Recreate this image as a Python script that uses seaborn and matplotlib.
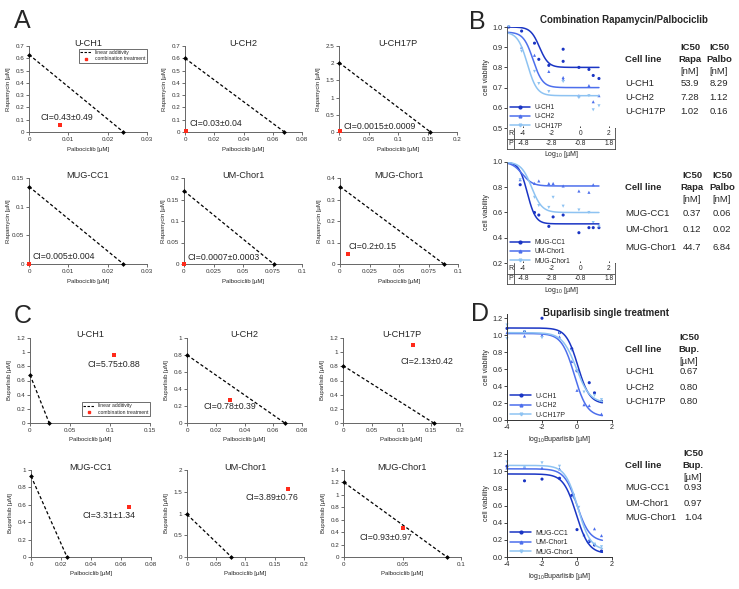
import numpy as np
import pandas as pd
import matplotlib
matplotlib.use("Agg")
import matplotlib.pyplot as plt
import seaborn as sns
from matplotlib.lines import Line2D
from matplotlib.ticker import FuncFormatter, FormatStrFormatter

W, H = 739, 589

# ---- ISOBOLOGRAMS (panels A and C) ----
iso_lines = ["U-CH1", "U-CH2", "U-CH17P", "MUG-CC1", "UM-Chor1", "MUG-Chor1"]

rapa_xint = [0.024, 0.068, 0.155, 0.024, 0.076, 0.088]
rapa_yint = [0.63, 0.60, 2.02, 0.135, 0.17, 0.36]
rapa_combo_x = [0.008, 0.001, 0.001, 0.0, 0.0, 0.007]
rapa_combo_y = [0.06, 0.01, 0.02, 0.0, 0.0, 0.045]
rapa_ci = ["CI=0.43±0.49", "CI=0.03±0.04", "CI=0.0015±0.0009",
           "CI=0.005±0.004", "CI=0.0007±0.0003", "CI=0.2±0.15"]
rapa_xmax = [0.03, 0.08, 0.2, 0.03, 0.1, 0.1]
rapa_xstep = [0.01, 0.02, 0.05, 0.01, 0.025, 0.025]
rapa_ymax = [0.7, 0.7, 2.5, 0.15, 0.2, 0.4]
rapa_ystep = [0.1, 0.1, 0.5, 0.05, 0.05, 0.1]

bup_xint = [0.024, 0.068, 0.155, 0.024, 0.076, 0.088]
bup_yint = [0.68, 0.80, 0.81, 0.93, 0.98, 1.20]
bup_combo_x = [0.105, 0.030, 0.120, 0.065, 0.173, 0.050]
bup_combo_y = [0.96, 0.27, 1.10, 0.58, 1.57, 0.47]
bup_ci = ["CI=5.75±0.88", "CI=0.78±0.39", "CI=2.13±0.42",
          "CI=3.31±1.34", "CI=3.89±0.76", "CI=0.93±0.97"]
bup_xmax = [0.15, 0.08, 0.2, 0.08, 0.2, 0.1]
bup_xstep = [0.05, 0.02, 0.05, 0.02, 0.05, 0.05]
bup_ymax = [1.2, 1.0, 1.2, 1.0, 2.0, 1.4]
bup_ystep = [0.2, 0.2, 0.2, 0.2, 0.5, 0.2]

# ---- DOSE RESPONSE (panel B, combination; x in log10 rapamycin) ----
b_top_lines = ["U-CH1", "U-CH2", "U-CH17P"]
b_top_fit_top = [1.0, 0.975, 0.975]
b_top_fit_bottom = [0.80, 0.70, 0.66]
b_top_fit_logec = [-2.85, -3.3, -3.7]
b_top_fit_hill = [1.4, 1.3, 1.3]
b_top_x = [[-5.0, -4.1, -3.2, -2.9, -2.2, -1.2, -1.2, -0.1, 0.6, 0.9, 1.3],
           [-4.1, -3.2, -2.2, -1.2, -1.2, -0.1, 0.6, 0.9, 1.3],
           [-5.0, -4.1, -3.2, -2.9, -2.2, -1.2, -0.1, 0.6, 0.9, 1.3]]
b_top_y = [[1.0, 0.98, 0.92, 0.84, 0.81, 0.89, 0.83, 0.80, 0.79, 0.76, 0.745],
           [0.90, 0.86, 0.78, 0.75, 0.74, 0.66, 0.71, 0.63, 0.66],
           [1.0, 0.88, 0.78, 0.72, 0.68, 0.73, 0.65, 0.66, 0.59, 0.61]]

b_bot_lines = ["MUG-CC1", "UM-Chor1", "MUG-Chor1"]
b_bot_fit_top = [1.0, 1.0, 1.0]
b_bot_fit_bottom = [0.51, 0.81, 0.60]
b_bot_fit_logec = [-3.7, -4.05, -3.4]
b_bot_fit_hill = [1.5, 1.2, 1.2]
b_bot_x = [[-4.2, -3.2, -2.9, -2.2, -1.9, -1.2, -0.1, 0.6, 0.9, 1.3],
           [-4.2, -3.2, -2.9, -2.2, -1.9, -1.2, -0.1, 0.6, 0.9],
           [-4.2, -3.2, -2.9, -2.2, -1.9, -1.2, -0.1, 0.6, 0.9, 1.3]]
b_bot_y = [[0.82, 0.60, 0.58, 0.49, 0.565, 0.58, 0.44, 0.48, 0.48, 0.48],
           [0.86, 0.83, 0.85, 0.83, 0.83, 0.81, 0.77, 0.76, 0.82],
           [0.86, 0.72, 0.655, 0.64, 0.72, 0.65, 0.62, 0.60, 0.52, 0.49]]

b_r_ticks = [-4, -2, 0, 2]
b_p_labels = ["-4.8", "-2.8", "-0.8", "1.8"]

# ---- DOSE RESPONSE (panel D, buparlisib alone) ----
d_top_lines = ["U-CH1", "U-CH2", "U-CH17P"]
d_top_fit_top = [1.085, 1.02, 1.03]
d_top_fit_bottom = [0.19, 0.04, 0.20]
d_top_fit_logec = [0.05, -0.15, -0.05]
d_top_fit_hill = [1.3, 1.2, 1.1]
d_top_x = [[-4, -3, -2, -1, -0.3, 0.0, 0.7, 1.0, 1.4],
           [-4, -3, -2, -1, -0.3, 0.0, 0.4, 0.7, 1.4],
           [-4, -4, -3, -2, -1, -0.3, 0.0, 0.4, 1.0, 1.4]]
d_top_y = [[1.08, 1.04, 1.20, 1.03, 0.84, 0.58, 0.44, 0.32, 0.22],
           [1.03, 0.99, 1.00, 0.98, 0.69, 0.35, 0.18, 0.17, 0.07],
           [1.12, 0.96, 1.04, 0.97, 1.03, 0.82, 0.58, 0.33, 0.29, 0.24]]

d_bot_lines = ["MUG-CC1", "UM-Chor1", "MUG-Chor1"]
d_bot_fit_top = [0.97, 1.03, 1.07]
d_bot_fit_bottom = [0.04, 0.18, 0.08]
d_bot_fit_logec = [-0.05, 0.0, 0.05]
d_bot_fit_hill = [1.2, 1.2, 1.2]
d_bot_x = [[-4, -3, -2, -1, -0.3, 0.0, 0.7, 1.0, 1.4],
           [-4, -3, -2, -1, -0.2, 0.4, 0.7, 1.0, 1.4],
           [-4, -3, -2, -1, -0.2, 0.1, 0.6, 1.0, 1.4]]
d_bot_y = [[1.06, 0.89, 0.91, 0.92, 0.72, 0.32, 0.18, 0.14, 0.07],
           [1.04, 1.05, 1.04, 1.03, 0.74, 0.26, 0.20, 0.33, 0.25],
           [1.11, 1.05, 1.10, 1.06, 0.69, 0.58, 0.17, 0.15, 0.12]]

# ---- IC50 TABLES ----
b_top_ic50_rapa = ["53.9", "7.28", "1.02"]
b_top_ic50_palbo = ["8.29", "1.12", "0.16"]
b_bot_ic50_rapa = ["0.37", "0.12", "44.7"]
b_bot_ic50_palbo = ["0.06", "0.02", "6.84"]
d_top_ic50_bup = ["0.67", "0.80", "0.80"]
d_bot_ic50_bup = ["0.93", "0.97", "1.04"]

SHADES = ["#1a35c4", "#4d6fec", "#8ec3f2"]
MARKERS = ["o", "^", "v"]
RED = "#ff2a1a"

sns.set_theme(style="ticks")
plt.rcParams["font.family"] = ["Liberation Sans", "DejaVu Sans"]
plt.rcParams["mathtext.default"] = "regular"
plt.rcParams["axes.unicode_minus"] = False

fig = plt.figure(figsize=(W / 100, H / 100), dpi=100)


def px_axes(left, top, right, bottom):
    return fig.add_axes([left / W, 1 - bottom / H, (right - left) / W, (bottom - top) / H])


def ftext(x, y, s, **kw):
    fig.text(x / W, 1 - y / H, s, **kw)


def num_fmt(v, pos):
    return f"{round(v, 4):g}"


def isobole(ax, name, xint, yint, cx, cy, ci, xmax, xstep, ymax, ystep, ylabel,
            label_xy, ha):
    seg = pd.DataFrame({"palbo": [0.0, xint], "other": [yint, 0.0]})
    ax.plot(seg["palbo"], seg["other"], color="black", lw=0.9, ls=(0, (2.6, 1.8)))
    sns.scatterplot(data=seg, x="palbo", y="other", ax=ax, marker="D", s=6,
                    color="black", linewidth=0, zorder=3, clip_on=False)
    sns.scatterplot(x=[cx], y=[cy], ax=ax, marker="s", s=11, color=RED,
                    linewidth=0, zorder=4, clip_on=False)
    ax.text(label_xy[0], label_xy[1], ci, ha=ha, va="center", fontsize=6.3)

    ax.set_xlim(0, xmax)
    ax.set_ylim(0, ymax)
    ax.set_xticks(np.arange(0, xmax + xstep / 2, xstep))
    ax.set_yticks(np.arange(0, ymax + ystep / 2, ystep))
    ax.xaxis.set_major_formatter(FuncFormatter(num_fmt))
    ax.yaxis.set_major_formatter(FuncFormatter(num_fmt))
    ax.tick_params(labelsize=4.5, length=2, width=0.5, pad=1.5, colors="#333333")
    sns.despine(ax=ax)
    for s in ("left", "bottom"):
        ax.spines[s].set_linewidth(0.7)
        ax.spines[s].set_color("#666666")
    bb = ax.get_position()
    w_px, h_px = bb.width * W, bb.height * H
    ax.set_xlabel("Palbociclib [µM]", fontsize=4.3)
    ax.set_ylabel(ylabel, fontsize=4.3)
    ax.xaxis.set_label_coords(0.5, -14.5 / h_px)
    ax.yaxis.set_label_coords(-18 / w_px, 0.5)
    ax.text(0.5, 1 + 3 / h_px, name, transform=ax.transAxes, ha="center",
            va="center", fontsize=6.6)


def iso_legend(ax, loc, anchor):
    handles = [Line2D([], [], color="black", lw=0.8, ls=(0, (2.2, 1.4))),
               Line2D([], [], color=RED, marker="s", ls="none", markersize=2)]
    leg = ax.legend(handles, ["linear additivity", "combination treatment"], loc=loc,
                    bbox_to_anchor=anchor, fontsize=3.6, frameon=True, fancybox=False,
                    handlelength=2.2, borderpad=0.3, labelspacing=0.25, borderaxespad=0)
    leg.get_frame().set_edgecolor("black")
    leg.get_frame().set_linewidth(0.5)


rows_a = [(46, 132), (178, 264)]
cols_a = [[(29, 147), (185, 302), (339, 457)], [(29, 147), (184, 302), (340, 458)]]
rows_c = [(338, 423), (470, 557)]
cols_c = [[(30, 150), (187, 302), (343, 460)], [(31, 151), (187, 304), (344, 461)]]

# CI label anchors (data coords) and alignment
rapa_label_xy = [(0.0028, 0.114), (0.0034, 0.073), (0.007, 0.15),
                 (0.0008, 0.013), (0.003, 0.015), (0.0068, 0.08)]
bup_label_xy = [(0.105, 0.83), (0.030, 0.19), (0.144, 0.875),
                (0.052, 0.48), (0.145, 1.36), (0.036, 0.31)]

iso_axes_a, iso_axes_c = [], []
for i, name in enumerate(iso_lines):
    r, c = divmod(i, 3)
    (top, bottom), (left, right) = rows_a[r], cols_a[r][c]
    ax = px_axes(left, top, right, bottom)
    isobole(ax, name, rapa_xint[i], rapa_yint[i], rapa_combo_x[i], rapa_combo_y[i],
            rapa_ci[i], rapa_xmax[i], rapa_xstep[i], rapa_ymax[i], rapa_ystep[i],
            "Rapamycin [µM]", rapa_label_xy[i], "left")
    iso_axes_a.append(ax)

    (top, bottom), (left, right) = rows_c[r], cols_c[r][c]
    ax = px_axes(left, top, right, bottom)
    isobole(ax, name, bup_xint[i], bup_yint[i], bup_combo_x[i], bup_combo_y[i],
            bup_ci[i], bup_xmax[i], bup_xstep[i], bup_ymax[i], bup_ystep[i],
            "Buparlisib [µM]", bup_label_xy[i], "center")
    iso_axes_c.append(ax)

iso_legend(iso_axes_a[0], "upper right", (1.0, 0.97))
iso_legend(iso_axes_c[0], "lower right", (1.0, 0.08))


def response(ax, lines, tops, bottoms, logecs, hills, xs, ys, x_lo, x_hi):
    curves = []
    points = []
    for name, t, b, ec, h, px, py in zip(lines, tops, bottoms, logecs, hills, xs, ys):
        grid = np.linspace(x_lo, x_hi, 200)
        curves.append(pd.DataFrame({"line": name, "dose": grid,
                                    "viab": b + (t - b) / (1 + 10 ** ((grid - ec) * h))}))
        points.append(pd.DataFrame({"line": name, "dose": px, "viab": py}))
    curves = pd.concat(curves)
    points = pd.concat(points)
    pal = dict(zip(lines, SHADES))
    sns.lineplot(data=curves, x="dose", y="viab", hue="line", palette=pal, ax=ax,
                 legend=False, lw=1.1, sort=False)
    sns.scatterplot(data=points, x="dose", y="viab", hue="line", style="line",
                    markers=dict(zip(lines, MARKERS)), palette=pal, ax=ax,
                    legend=False, s=5, linewidth=0, clip_on=False)
    handles = [Line2D([], [], color=col, marker=m, markersize=2, lw=1.1)
               for col, m in zip(SHADES, MARKERS)]
    return handles


def rp_table(left, top, right, bottom, xlim, div_px):
    tax = px_axes(left, top, right, bottom)
    tax.set_xlim(xlim)
    tax.set_ylim(0, 2)
    tax.set_xticks([])
    tax.set_yticks([])
    for s in tax.spines.values():
        s.set_visible(True)
        s.set_linewidth(0.6)
        s.set_color("#444444")
    tax.spines["top"].set_visible(False)
    tax.axhline(1, color="#444444", lw=0.6)
    div = xlim[0] + (div_px - left) / (right - left) * (xlim[1] - xlim[0])
    tax.axvline(div, color="#444444", lw=0.6)
    mid = (xlim[0] + div) / 2
    tax.text(mid, 1.5, "R", ha="center", va="center", fontsize=5)
    tax.text(mid, 0.5, "P", ha="center", va="center", fontsize=5)
    for t in b_r_ticks:
        tax.text(t, 1.5, str(t), ha="center", va="center", fontsize=4.8)
    for t, lab in zip(b_r_ticks, b_p_labels):
        tax.text(t, 0.5, lab, ha="center", va="center", fontsize=4.8)
    return tax


B_XLIM = (-5.12, 2.42)

# ---- PANEL B ----
for (lines, tops, bots, ecs, hills, xs, ys, top, bottom, ylim, yticks) in [
        (b_top_lines, b_top_fit_top, b_top_fit_bottom, b_top_fit_logec, b_top_fit_hill,
         b_top_x, b_top_y, 27, 128, (0.5, 1.0), np.arange(0.5, 1.01, 0.1)),
        (b_bot_lines, b_bot_fit_top, b_bot_fit_bottom, b_bot_fit_logec, b_bot_fit_hill,
         b_bot_x, b_bot_y, 162, 263, (0.2, 1.0), np.arange(0.2, 1.01, 0.2))]:
    ax = px_axes(507, top, 615, bottom)
    handles = response(ax, lines, tops, bots, ecs, hills, xs, ys, B_XLIM[0], 1.3)
    ax.set_xlim(B_XLIM)
    ax.set_ylim(ylim)
    ax.set_yticks(yticks)
    ax.yaxis.set_major_formatter(FormatStrFormatter("%.1f"))
    ax.set_xticks(b_r_ticks)
    ax.set_xticklabels([])
    ax.tick_params(labelsize=5.2, length=2, width=0.6, pad=1)
    ax.tick_params(axis="x", direction="in", length=1.5)
    sns.despine(ax=ax)
    for s in ("left", "bottom"):
        ax.spines[s].set_linewidth(0.6)
        ax.spines[s].set_color("#444444")
    ax.set_xlabel("")
    ax.set_ylabel("cell viability", fontsize=5, labelpad=2)
    ax.legend(handles, lines, loc="lower left", bbox_to_anchor=(0.0, -0.05),
              frameon=False, fontsize=4.8, handlelength=3.0, labelspacing=0.35,
              borderaxespad=0.1, handletextpad=0.6)
    rp_table(507, bottom, 615, bottom + 21, B_XLIM, 514)
    ftext(561, bottom + 27, "Log$_{10}$ [µM]", ha="center", va="center", fontsize=5)

# ---- PANEL D ----
for (lines, tops, bots, ecs, hills, xs, ys, top, bottom) in [
        (d_top_lines, d_top_fit_top, d_top_fit_bottom, d_top_fit_logec, d_top_fit_hill,
         d_top_x, d_top_y, 314, 420),
        (d_bot_lines, d_bot_fit_top, d_bot_fit_bottom, d_bot_fit_logec, d_bot_fit_hill,
         d_bot_x, d_bot_y, 450, 557)]:
    ax = px_axes(507, top, 612, bottom)
    handles = response(ax, lines, tops, bots, ecs, hills, xs, ys, -4, 1.45)
    ax.set_xlim(-4, 2)
    ax.set_ylim(0, 1.25)
    ax.set_xticks([-4, -2, 0, 2])
    ax.set_yticks(np.arange(0, 1.21, 0.2))
    ax.yaxis.set_major_formatter(FormatStrFormatter("%.1f"))
    ax.tick_params(labelsize=5.2, length=2, width=0.6, pad=1)
    sns.despine(ax=ax)
    for s in ("left", "bottom"):
        ax.spines[s].set_linewidth(0.7)
        ax.spines[s].set_color("#333333")
    ax.set_xlabel("log$_{10}$Buparlisib [µM]", fontsize=5, labelpad=2)
    ax.set_ylabel("cell viability", fontsize=5, labelpad=2)
    ax.legend(handles, lines, loc="lower left", bbox_to_anchor=(0.0, -0.02),
              frameon=False, fontsize=5, handlelength=3.0, labelspacing=0.35,
              borderaxespad=0.1, handletextpad=0.6)

# ---- IC50 TABLES ----
TS = 6.8


def ic50_block(y_head, y_rows, names, col_x, heads, cols):
    ftext(625, y_head[1], "Cell line", ha="left", va="center", fontsize=TS, weight="bold")
    for x, (h1, h2, unit), vals in zip(col_x, heads, cols):
        ftext(x, y_head[0], h1, ha="center", va="center", fontsize=TS, weight="bold")
        ftext(x, y_head[1], h2, ha="center", va="center", fontsize=TS, weight="bold")
        ftext(x, y_head[2], unit, ha="center", va="center", fontsize=TS)
        for y, v in zip(y_rows, vals):
            ftext(x, y, v, ha="center", va="center", fontsize=TS)
    for y, n in zip(y_rows, names):
        ftext(625, y, n, ha="left", va="center", fontsize=TS)


ic50_block((48, 60, 71), (83, 97, 112), b_top_lines, (690, 719),
           [("IC50", "Rapa", "[nM]"), ("IC50", "Palbo", "[nM]")],
           [b_top_ic50_rapa, b_top_ic50_palbo])
ic50_block((175, 188, 200), (213, 230, 247), b_bot_lines, (692, 722),
           [("IC50", "Rapa", "[nM]"), ("IC50", "Palbo", "[nM]")],
           [b_bot_ic50_rapa, b_bot_ic50_palbo])
ic50_block((338, 350, 361), (372, 387, 401), d_top_lines, (689,),
           [("IC50", "Bup.", "[µM]")], [d_top_ic50_bup])
ic50_block((454, 466, 477), (488, 504, 518), d_bot_lines, (693,),
           [("IC50", "Bup.", "[µM]")], [d_bot_ic50_bup])

# ---- TITLES AND PANEL LETTERS ----
ftext(624, 20, "Combination Rapamycin/Palbociclib", ha="center", va="center",
      fontsize=7, weight="bold")
ftext(606, 313, "Buparlisib single treatment", ha="center", va="center",
      fontsize=7, weight="bold")
for letter, x, y in [("A", 14, 21), ("B", 469, 22), ("C", 14, 316), ("D", 471, 314)]:
    ftext(x, y, letter, ha="left", va="center", fontsize=18)

fig.savefig("out.png", dpi=100)
